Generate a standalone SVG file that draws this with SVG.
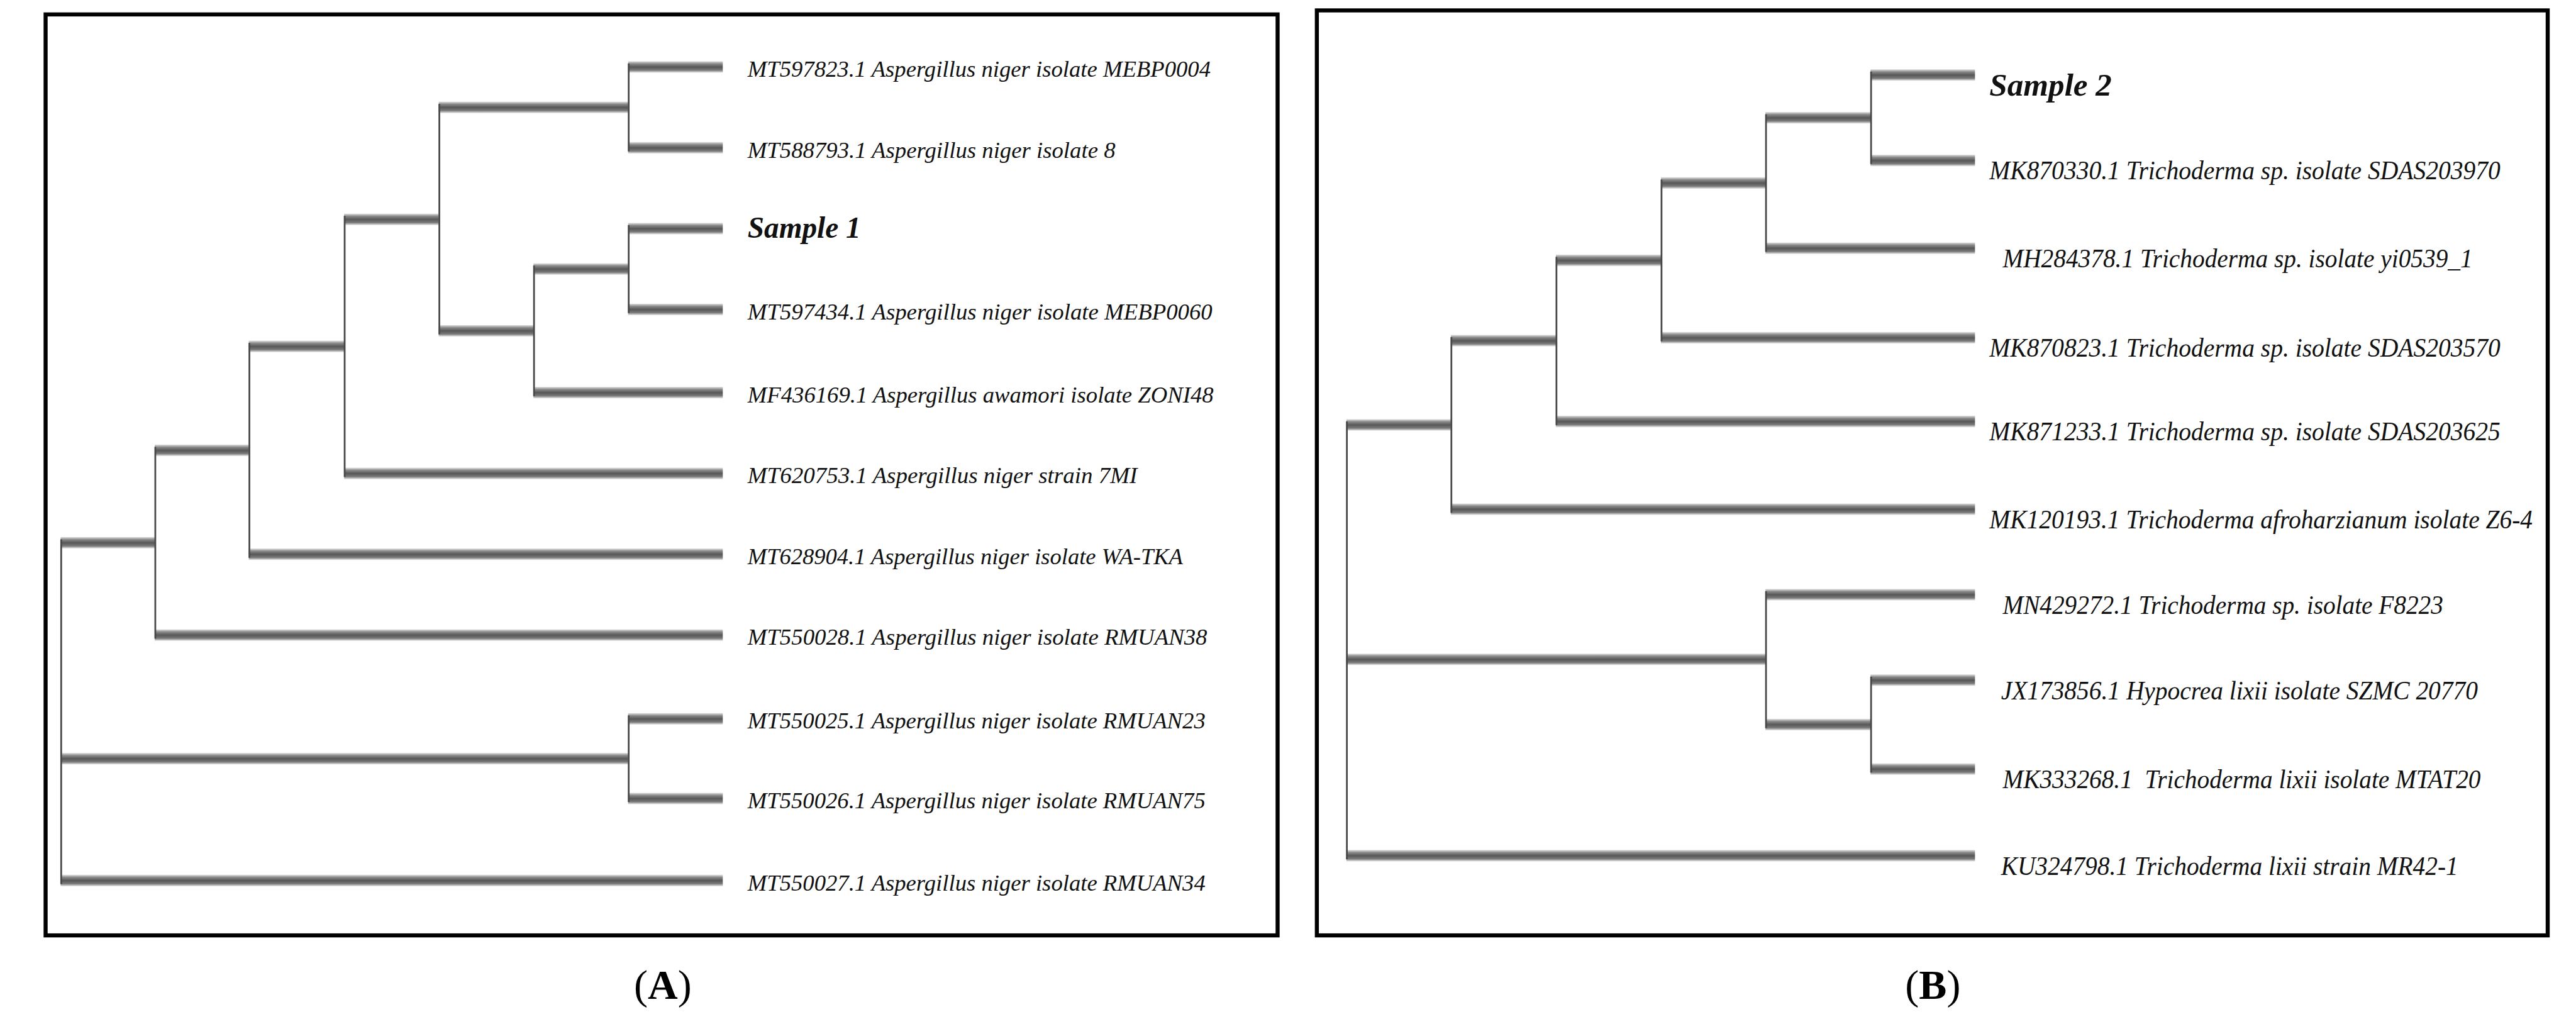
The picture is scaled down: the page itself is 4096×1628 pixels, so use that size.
<svg xmlns="http://www.w3.org/2000/svg" width="4096" height="1628" viewBox="0 0 4096 1628">
<defs>
<linearGradient id="barGrad" x1="0" y1="0" x2="0" y2="1">
<stop offset="0" stop-color="#e2e2e2"/>
<stop offset="0.22" stop-color="#8a8a8a"/>
<stop offset="0.5" stop-color="#575757"/>
<stop offset="0.78" stop-color="#7a7a7a"/>
<stop offset="1" stop-color="#ececec"/>
</linearGradient>
<style>
.frame{fill:none;stroke:#000;stroke-width:7}
.v{stroke:#474747;stroke-width:3;fill:none}
.bar{fill:url(#barGrad)}
.la{font-family:"Liberation Serif",serif;font-style:italic;font-size:40px;fill:#111;white-space:pre}
.lb{font-family:"Liberation Serif",serif;font-style:italic;font-size:46px;fill:#111;white-space:pre}
.smp{font-family:"Liberation Serif",serif;font-style:italic;font-weight:bold;fill:#111}
.cap{font-family:"Liberation Serif",serif;font-size:72px;fill:#000}
</style>
</defs>
<rect x="0" y="0" width="4096" height="1628" fill="#fff"/>
<g transform="scale(0.91797)">
<g id="frames">
<rect id="frameA" class="frame" x="79" y="25" width="2134" height="1595"/>
<rect id="frameB" class="frame" x="2281" y="18" width="2132" height="1602"/>
</g>
<g id="connectors">
<!-- Panel A horizontal branches -->
<rect class="bar" x="1088" y="106" width="164" height="20"/>
<rect class="bar" x="1088" y="246" width="164" height="20"/>
<rect class="bar" x="1088" y="386" width="164" height="20"/>
<rect class="bar" x="1088" y="526" width="164" height="20"/>
<rect class="bar" x="924" y="670" width="328" height="20"/>
<rect class="bar" x="924" y="456" width="164" height="20"/>
<rect class="bar" x="760" y="176" width="328" height="20"/>
<rect class="bar" x="760" y="563" width="164" height="20"/>
<rect class="bar" x="596" y="370" width="164" height="20"/>
<rect class="bar" x="596" y="810" width="656" height="20"/>
<rect class="bar" x="431" y="590" width="165" height="20"/>
<rect class="bar" x="431" y="950" width="821" height="20"/>
<rect class="bar" x="268" y="770" width="163" height="20"/>
<rect class="bar" x="268" y="1090" width="984" height="20"/>
<rect class="bar" x="105" y="930" width="163" height="20"/>
<rect class="bar" x="105" y="1304" width="983" height="20"/>
<rect class="bar" x="1088" y="1235" width="164" height="20"/>
<rect class="bar" x="1088" y="1373" width="164" height="20"/>
<rect class="bar" x="105" y="1515" width="1147" height="20"/>
<!-- Panel A vertical lines -->
<line class="v" x1="1089" y1="110" x2="1089" y2="262"/>
<line class="v" x1="1089" y1="390" x2="1089" y2="542"/>
<line class="v" x1="1089" y1="1239" x2="1089" y2="1389"/>
<line class="v" x1="925" y1="460" x2="925" y2="686"/>
<line class="v" x1="761" y1="180" x2="761" y2="579"/>
<line class="v" x1="597" y1="374" x2="597" y2="826"/>
<line class="v" x1="432" y1="594" x2="432" y2="966"/>
<line class="v" x1="269" y1="774" x2="269" y2="1106"/>
<line class="v" x1="106" y1="934" x2="106" y2="1531"/>
<!-- Panel B horizontal branches -->
<rect class="bar" x="3240" y="120" width="181" height="20"/>
<rect class="bar" x="3240" y="268" width="181" height="20"/>
<rect class="bar" x="3058" y="194" width="182" height="20"/>
<rect class="bar" x="3058" y="420" width="363" height="20"/>
<rect class="bar" x="2877" y="307" width="181" height="20"/>
<rect class="bar" x="2877" y="575" width="544" height="20"/>
<rect class="bar" x="2695" y="441" width="182" height="20"/>
<rect class="bar" x="2695" y="720" width="726" height="20"/>
<rect class="bar" x="2513" y="580" width="182" height="20"/>
<rect class="bar" x="2513" y="872" width="908" height="20"/>
<rect class="bar" x="2332" y="726" width="181" height="20"/>
<rect class="bar" x="2332" y="1132" width="726" height="20"/>
<rect class="bar" x="3058" y="1020" width="363" height="20"/>
<rect class="bar" x="3058" y="1245" width="182" height="20"/>
<rect class="bar" x="3240" y="1168" width="181" height="20"/>
<rect class="bar" x="3240" y="1322" width="181" height="20"/>
<rect class="bar" x="2332" y="1472" width="1089" height="20"/>
<!-- Panel B vertical lines -->
<line class="v" x1="3241" y1="124" x2="3241" y2="284"/>
<line class="v" x1="3241" y1="1172" x2="3241" y2="1338"/>
<line class="v" x1="3059" y1="198" x2="3059" y2="436"/>
<line class="v" x1="3059" y1="1024" x2="3059" y2="1261"/>
<line class="v" x1="2878" y1="311" x2="2878" y2="591"/>
<line class="v" x1="2696" y1="445" x2="2696" y2="736"/>
<line class="v" x1="2514" y1="584" x2="2514" y2="888"/>
<line class="v" x1="2333" y1="730" x2="2333" y2="1488"/>
</g>
<g id="nodesA">
<g id="a-MT597823"><text class="la" x="1295" y="133" textLength="802" lengthAdjust="spacingAndGlyphs">MT597823.1 Aspergillus niger isolate MEBP0004</text></g>
<g id="a-MT588793"><text class="la" x="1295" y="273" textLength="637" lengthAdjust="spacingAndGlyphs">MT588793.1 Aspergillus niger isolate 8</text></g>
<g id="a-Sample1"><text class="smp" x="1295" y="412" font-size="52" textLength="196" lengthAdjust="spacingAndGlyphs">Sample 1</text></g>
<g id="a-MT597434"><text class="la" x="1295" y="553" textLength="805" lengthAdjust="spacingAndGlyphs">MT597434.1 Aspergillus niger isolate MEBP0060</text></g>
<g id="a-MF436169"><text class="la" x="1295" y="697" textLength="807" lengthAdjust="spacingAndGlyphs">MF436169.1 Aspergillus awamori isolate ZONI48</text></g>
<g id="a-MT620753"><text class="la" x="1295" y="837" textLength="675" lengthAdjust="spacingAndGlyphs">MT620753.1 Aspergillus niger strain 7MI</text></g>
<g id="a-MT628904"><text class="la" x="1295" y="977" textLength="754" lengthAdjust="spacingAndGlyphs">MT628904.1 Aspergillus niger isolate WA-TKA</text></g>
<g id="a-MT550028"><text class="la" x="1295" y="1117" textLength="796" lengthAdjust="spacingAndGlyphs">MT550028.1 Aspergillus niger isolate RMUAN38</text></g>
<g id="a-MT550025"><text class="la" x="1295" y="1262" textLength="793" lengthAdjust="spacingAndGlyphs">MT550025.1 Aspergillus niger isolate RMUAN23</text></g>
<g id="a-MT550026"><text class="la" x="1295" y="1400" textLength="793" lengthAdjust="spacingAndGlyphs">MT550026.1 Aspergillus niger isolate RMUAN75</text></g>
<g id="a-MT550027"><text class="la" x="1295" y="1542" textLength="793" lengthAdjust="spacingAndGlyphs">MT550027.1 Aspergillus niger isolate RMUAN34</text></g>
</g>
<g id="nodesB">
<g id="b-Sample2"><text class="smp" x="3446" y="166" font-size="56" textLength="212" lengthAdjust="spacingAndGlyphs">Sample 2</text></g>
<g id="b-MK870330"><text class="lb" x="3446" y="311" textLength="885" lengthAdjust="spacingAndGlyphs">MK870330.1 Trichoderma sp. isolate SDAS203970</text></g>
<g id="b-MH284378"><text class="lb" x="3469" y="463" textLength="814" lengthAdjust="spacingAndGlyphs">MH284378.1 Trichoderma sp. isolate yi0539_1</text></g>
<g id="b-MK870823"><text class="lb" x="3446" y="618" textLength="885" lengthAdjust="spacingAndGlyphs">MK870823.1 Trichoderma sp. isolate SDAS203570</text></g>
<g id="b-MK871233"><text class="lb" x="3446" y="763" textLength="885" lengthAdjust="spacingAndGlyphs">MK871233.1 Trichoderma sp. isolate SDAS203625</text></g>
<g id="b-MK120193"><text class="lb" x="3446" y="915" textLength="941" lengthAdjust="spacingAndGlyphs">MK120193.1 Trichoderma afroharzianum isolate Z6-4</text></g>
<g id="b-MN429272"><text class="lb" x="3469" y="1063" textLength="763" lengthAdjust="spacingAndGlyphs">MN429272.1 Trichoderma sp. isolate F8223</text></g>
<g id="b-JX173856"><text class="lb" x="3466" y="1211" textLength="826" lengthAdjust="spacingAndGlyphs">JX173856.1 Hypocrea lixii isolate SZMC 20770</text></g>
<g id="b-MK333268"><text class="lb" x="3469" y="1365" textLength="828" lengthAdjust="spacingAndGlyphs" xml:space="preserve">MK333268.1  Trichoderma lixii isolate MTAT20</text></g>
<g id="b-KU324798"><text class="lb" x="3466" y="1515" textLength="792" lengthAdjust="spacingAndGlyphs">KU324798.1 Trichoderma lixii strain MR42-1</text></g>
</g>
<g id="captions">
<text class="cap" x="1148" y="1730" text-anchor="middle">(<tspan font-weight="bold">A</tspan>)</text>
<text class="cap" x="3348" y="1730" text-anchor="middle">(<tspan font-weight="bold">B</tspan>)</text>
</g>
</g>
</svg>
